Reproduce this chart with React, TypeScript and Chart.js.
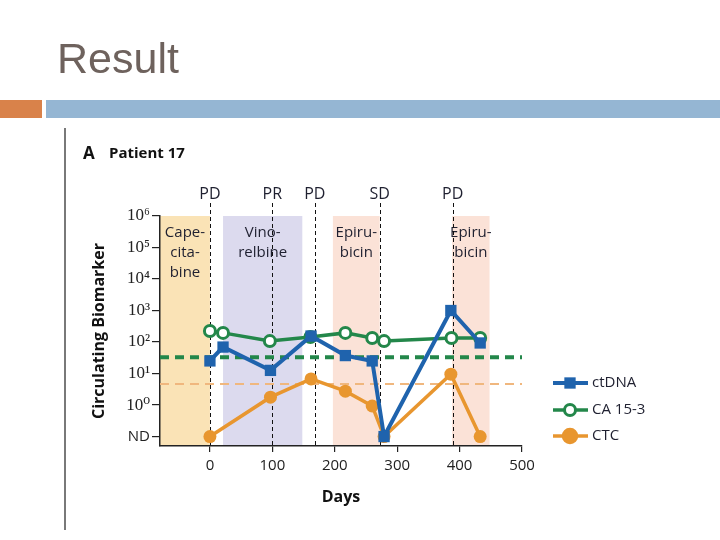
import React, { useEffect, useRef } from 'react';
import { Chart, registerables } from 'chart.js';

Chart.register(...registerables);

// ---- data (values are log10 of the biomarker; ND = -1) ----
const ctdnaDays = [0, 21, 97, 162, 217, 260, 279, 386, 433];
const ctdnaLog = [1.4, 1.84, 1.1, 2.19, 1.57, 1.4, -1, 3.0, 1.97];
const ca153Days = [0, 21, 96, 161, 217, 260, 279, 387, 433];
const ca153Log = [2.35, 2.29, 2.03, 2.16, 2.29, 2.13, 2.03, 2.13, 2.13];
const ctcDays = [0, 97, 162, 217, 260, 279, 386, 433];
const ctcLog = [-1, 0.25, 0.83, 0.44, -0.03, -1, 0.98, -1];
const thresholdDays = [-80, 500];
const ca153Threshold = 1.52;
const ctcThreshold = 0.67;

const yTickValues = [-1, 0, 1, 2, 3, 4, 5, 6];
const yTickLabels = ['ND', '10⁰', '10¹', '10²', '10³', '10⁴', '10⁵', '10⁶'];
const xTickValues = [0, 100, 200, 300, 400, 500];

const eventDays = [0, 100, 168, 272, 389];
const eventLabels = ['PD', 'PR', 'PD', 'SD', 'PD'];

const treatmentStart = [-80, 21, 197, 388];
const treatmentEnd = [0, 148, 272, 448];
const treatmentLabels = [['Cape-', 'cita-', 'bine'], ['Vino-', 'relbine'], ['Epiru-', 'bicin'], ['Epiru-', 'bicin']];
const treatmentColors = ['#fae3b6', '#dcdaee', '#fbe2d7', '#fbe2d7'];

const seriesNames = ['ctDNA', 'CA 15-3', 'CTC'];
const BLUE = '#1f63ad';
const GREEN = '#23874a';
const ORANGE = '#e8962f';
const TXT = '#1f2030';
const SANS = '"Open Sans", "Noto Sans", sans-serif';

const toPts = (days: number[], vals: number[]) => days.map((d, i) => ({ x: d, y: vals[i] }));

const decorPlugin = {
  id: 'decor',
  beforeDraw(chart: any) {
    const { ctx } = chart;
    const x = chart.scales.x;
    const y = chart.scales.y;
    ctx.save();
    ctx.fillStyle = '#ffffff';
    ctx.fillRect(0, 0, chart.width, chart.height);
    // slide header
    ctx.fillStyle = '#6e625d';
    ctx.font = '43px "Liberation Sans", Arial, sans-serif';
    ctx.textAlign = 'left';
    ctx.textBaseline = 'alphabetic';
    ctx.fillText('Result', 57, 73);
    ctx.fillStyle = '#d9824a';
    ctx.fillRect(0, 100, 42, 18);
    ctx.fillStyle = '#95b6d3';
    ctx.fillRect(46, 100, 674, 18);
    ctx.strokeStyle = '#4d4d4d';
    ctx.lineWidth = 1.5;
    ctx.beginPath();
    ctx.moveTo(65, 128);
    ctx.lineTo(65, 530);
    ctx.stroke();
    // treatment shading
    const top = y.getPixelForValue(6);
    const bottom = y.getPixelForValue(y.min);
    treatmentStart.forEach((s, i) => {
      const x1 = x.getPixelForValue(s);
      const x2 = x.getPixelForValue(treatmentEnd[i]);
      ctx.fillStyle = treatmentColors[i];
      ctx.fillRect(x1, top, x2 - x1, bottom - top);
    });
    ctx.restore();
  },
  beforeDatasetsDraw(chart: any) {
    const { ctx } = chart;
    const x = chart.scales.x;
    const y = chart.scales.y;
    ctx.save();
    const bottom = y.getPixelForValue(y.min);
    // treatment labels
    ctx.fillStyle = TXT;
    ctx.font = '15px ' + SANS;
    ctx.textAlign = 'center';
    ctx.textBaseline = 'middle';
    treatmentLabels.forEach((lines, i) => {
      const cx = x.getPixelForValue((treatmentStart[i] + treatmentEnd[i]) / 2);
      lines.forEach((t, j) => ctx.fillText(t, cx, 233 + j * 20));
    });
    // event lines
    ctx.strokeStyle = '#111';
    ctx.lineWidth = 1;
    ctx.setLineDash([4, 3]);
    eventDays.forEach((d) => {
      const px = Math.round(x.getPixelForValue(d)) + 0.5;
      ctx.beginPath();
      ctx.moveTo(px, 203);
      ctx.lineTo(px, bottom);
      ctx.stroke();
    });
    ctx.setLineDash([]);
    ctx.font = '16px ' + SANS;
    eventDays.forEach((d, i) => {
      ctx.fillText(eventLabels[i], x.getPixelForValue(d), 194);
    });
    ctx.restore();
  },
  afterDraw(chart: any) {
    const { ctx } = chart;
    ctx.save();
    // panel title
    ctx.fillStyle = '#111';
    ctx.textAlign = 'left';
    ctx.textBaseline = 'middle';
    ctx.font = 'bold 17px ' + SANS;
    ctx.fillText('A', 83, 154);
    ctx.font = 'bold 15px ' + SANS;
    ctx.fillText('Patient 17', 109, 154);
    // legend
    const rows = [383, 410, 436];
    [0, 1, 2].forEach((i) => {
      const ds = chart.data.datasets[i];
      const yy = rows[i];
      ctx.strokeStyle = ds.borderColor;
      ctx.lineWidth = ds.borderWidth;
      ctx.beginPath();
      ctx.moveTo(553, yy);
      ctx.lineTo(588, yy);
      ctx.stroke();
      ctx.fillStyle = ds.pointBackgroundColor;
      ctx.strokeStyle = ds.pointBorderColor;
      ctx.lineWidth = ds.pointBorderWidth;
      if (ds.pointStyle === 'rect') {
        const s = ds.pointRadius * Math.SQRT1_2;
        ctx.fillRect(570 - s, yy - s, 2 * s, 2 * s);
      } else {
        ctx.beginPath();
        ctx.arc(570, yy, ds.pointRadius, 0, Math.PI * 2);
        ctx.fill();
        ctx.stroke();
      }
      ctx.fillStyle = TXT;
      ctx.font = '15px ' + SANS;
      ctx.fillText(seriesNames[i], 592, yy);
    });
    ctx.restore();
  },
};

export default function App() {
  const ref = useRef<HTMLCanvasElement>(null);
  useEffect(() => {
    if (!ref.current) return;
    const chart = new Chart(ref.current, {
      type: 'line',
      data: {
        datasets: [
          {
            label: seriesNames[0],
            data: toPts(ctdnaDays, ctdnaLog),
            borderColor: BLUE,
            backgroundColor: BLUE,
            borderWidth: 4,
            pointStyle: 'rect',
            pointRadius: 8,
            pointBackgroundColor: BLUE,
            pointBorderColor: BLUE,
            pointBorderWidth: 0,
          },
          {
            label: seriesNames[1],
            data: toPts(ca153Days, ca153Log),
            borderColor: GREEN,
            backgroundColor: '#ffffff',
            borderWidth: 3.5,
            pointStyle: 'circle',
            pointRadius: 5.5,
            pointBackgroundColor: '#ffffff',
            pointBorderColor: GREEN,
            pointBorderWidth: 3,
          },
          {
            label: seriesNames[2],
            data: toPts(ctcDays, ctcLog),
            borderColor: ORANGE,
            backgroundColor: ORANGE,
            borderWidth: 3.5,
            pointStyle: 'circle',
            pointRadius: 6.5,
            pointBackgroundColor: ORANGE,
            pointBorderColor: ORANGE,
            pointBorderWidth: 0,
          },
          {
            label: 'CA 15-3 threshold',
            data: thresholdDays.map((d) => ({ x: d, y: ca153Threshold })),
            borderColor: GREEN,
            borderWidth: 4,
            borderDash: [9, 6],
            pointRadius: 0,
          },
          {
            label: 'CTC threshold',
            data: thresholdDays.map((d) => ({ x: d, y: ctcThreshold })),
            borderColor: '#f0b77e',
            borderWidth: 2,
            borderDash: [9, 6],
            pointRadius: 0,
          },
        ],
      },
      options: {
        animation: false,
        responsive: false,
        devicePixelRatio: 1,
        layout: { padding: { left: 0, top: 216, right: 198, bottom: 0 } },
        plugins: { legend: { display: false }, tooltip: { enabled: false }, title: { display: false } },
        elements: { line: { tension: 0 } },
        scales: {
          x: {
            type: 'linear',
            min: -80,
            max: 500,
            afterBuildTicks: (scale: any) => {
              scale.ticks = xTickValues.map((v) => ({ value: v }));
            },
            afterFit: (scale: any) => {
              scale.height = 94;
            },
            grid: { drawOnChartArea: false, drawTicks: true, tickLength: 6, color: '#222', lineWidth: 1.2 },
            border: { display: true, color: '#222', width: 1.5 },
            ticks: { color: '#222', font: { family: SANS, size: 15 }, padding: 5, maxRotation: 0 },
            title: {
              display: true,
              text: 'Days',
              color: '#111',
              font: { family: SANS, size: 16, weight: 'bold' },
              padding: { top: 0, bottom: 33 },
            },
          },
          y: {
            type: 'linear',
            min: -1.3,
            max: 6,
            afterBuildTicks: (scale: any) => {
              scale.ticks = yTickValues.map((v) => ({ value: v }));
            },
            afterFit: (scale: any) => {
              scale.width = 160;
            },
            grid: { drawOnChartArea: false, drawTicks: true, tickLength: 8, color: '#222', lineWidth: 1.2 },
            border: { display: true, color: '#222', width: 1.5 },
            ticks: {
              color: '#222',
              padding: 2,
              callback: (v: any) => {
                const i = yTickValues.indexOf(Number(v));
                return i >= 0 ? yTickLabels[i] : '';
              },
              font: (c: any) =>
                c.tick && c.tick.value === -1
                  ? { family: SANS, size: 15 }
                  : { family: '"Liberation Serif", "DejaVu Serif", serif', size: 17 },
            },
            title: {
              display: true,
              text: 'Circulating Biomarker',
              color: '#111',
              font: { family: SANS, size: 16, weight: 'bold' },
              padding: { top: 90, bottom: 0 },
            },
          },
        },
      },
      plugins: [decorPlugin],
    });
    return () => chart.destroy();
  }, []);
  return (
    <canvas
      ref={ref}
      width={720}
      height={540}
      style={{ position: 'absolute', left: 0, top: 0, width: 720, height: 540 }}
    />
  );
}
